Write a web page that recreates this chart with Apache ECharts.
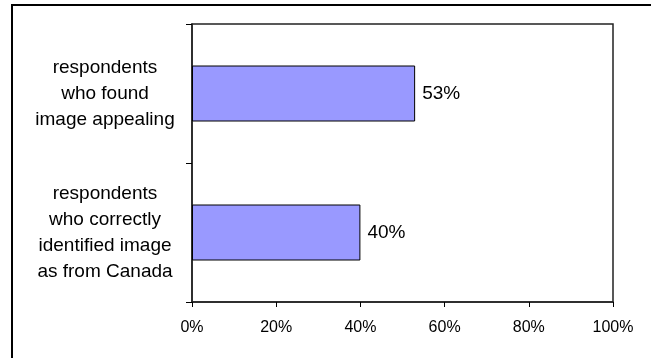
<!DOCTYPE html>
<html>
<head>
<meta charset="utf-8">
<script src="https://cdn.jsdelivr.net/npm/echarts@6/dist/echarts.min.js"></script>
<style>
html,body{margin:0;padding:0;background:#fff;}
#chart{width:651px;height:358px;}
</style>
</head>
<body>
<div id="chart"></div>
<script>
var categories = [
  "respondents\nwho found\nimage appealing",
  "respondents\nwho correctly\nidentified image\nas from Canada"
];
var values = [53, 40];
var xTicks = { min: 0, max: 100, interval: 20 };

var chart = echarts.init(document.getElementById('chart'), null, {renderer: 'canvas'});
var font = 'Arial, "Liberation Sans", sans-serif';
chart.setOption({
  animation: false,
  backgroundColor: '#ffffff',
  graphic: [{
    type: 'rect',
    shape: {x: 12, y: 5, width: 660, height: 380},
    style: {fill: 'none', stroke: '#000', lineWidth: 2},
    silent: true
  }],
  grid: {
    left: 192, top: 24, right: 38, bottom: 56,
    show: true, borderColor: '#222', borderWidth: 1.5, backgroundColor: 'transparent'
  },
  xAxis: {
    type: 'value',
    min: xTicks.min, max: xTicks.max, interval: xTicks.interval,
    axisLine: {show: true, lineStyle: {color: '#222', width: 1.5}},
    axisTick: {show: true, length: 5, lineStyle: {color: '#000'}},
    splitLine: {show: false},
    axisLabel: {
      formatter: '{value}%', fontSize: 16, color: '#000', fontFamily: font, margin: 18
    }
  },
  yAxis: {
    type: 'category',
    data: categories,
    inverse: true,
    axisLine: {show: true, lineStyle: {color: '#222', width: 1.5}},
    axisTick: {show: true, length: 6, alignWithLabel: false, lineStyle: {color: '#000'}},
    axisLabel: {
      fontSize: 19, lineHeight: 26, color: '#000', fontFamily: font,
      align: 'center', margin: 87, padding: [0, 0, 3, 0]
    }
  },
  series: [{
    type: 'bar',
    data: values,
    barWidth: 56,
    itemStyle: {color: '#9999FF', borderColor: '#000', borderWidth: 1},
    label: {
      show: true, position: 'right', distance: 7,
      formatter: '{c}%', fontSize: 19, color: '#000', fontFamily: font
    }
  }]
});
</script>
</body>
</html>
